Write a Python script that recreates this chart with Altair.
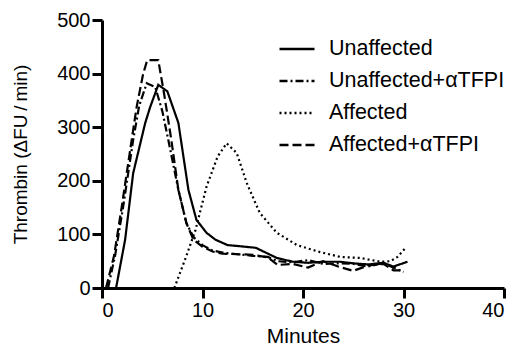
import altair as alt
import pandas as pd

# Unaffected (solid)
t_unaff = [1.4, 2.3, 3.1, 4.3, 4.8, 5.6, 6.5, 7.6, 8.6, 9.4, 10.4, 11.3, 12.5, 13.7, 15.3, 16.3, 17.4, 19.0, 20.5, 22.0, 23.7, 25.0, 26.5, 28.0, 29.0, 30.4]
v_unaff = [0, 90, 214, 308, 338, 379, 367, 308, 183, 127, 103, 90, 80, 78, 75, 66, 56, 49, 47, 49, 49, 46, 44, 47, 40, 49]

# Unaffected + aTFPI (dash-dot)
t_unaff_ab = [0.6, 1.3, 2.1, 3.1, 3.7, 4.45, 5.3, 6.0, 6.6, 7.6, 8.4, 9.1, 10.0, 11.0, 12.0, 13.5, 15.0, 16.5, 17.5, 19.0, 20.5, 22.0, 23.5, 25.0, 26.5, 28.0, 29.0, 30.0]
v_unaff_ab = [0, 60, 151, 276, 340, 382, 375, 330, 276, 183, 121, 95, 80, 70, 66, 63, 60, 58, 50, 48, 52, 45, 46, 45, 40, 47, 38, 30]

# Affected (dotted)
t_aff = [7.2, 7.5, 8.4, 9.3, 10.4, 11.5, 12.4, 13.4, 14.4, 15.7, 17.4, 19.4, 21.7, 23.7, 25.7, 27.7, 28.7, 29.4, 30.3]
v_aff = [0, 15, 60, 108, 189, 245, 270, 252, 196, 140, 103, 80, 67, 58, 56, 49, 50, 58, 77]

# Affected + aTFPI (dashed)
t_aff_ab = [0.4, 1.2, 1.96, 2.95, 3.45, 4.1, 4.5, 5.6, 6.2, 6.9, 7.6, 8.4, 9.1, 10.0, 11.0, 12.0, 13.5, 15.0, 16.5, 17.5, 19.0, 20.5, 22.0, 23.5, 25.0, 26.5, 28.0, 29.0, 30.0]
v_aff_ab = [0, 60, 151, 276, 338, 400, 425, 425, 360, 276, 183, 121, 90, 77, 68, 64, 63, 62, 57, 43, 45, 38, 50, 40, 32, 42, 45, 33, 33]

series_names = ["Unaffected", "Unaffected+\u03b1TFPI", "Affected", "Affected+\u03b1TFPI"]
dashes = [[1, 0], [8, 3, 2, 3], [2, 3], [9, 4]]

rows = []
for name, ts, vs in zip(series_names,
                        [t_unaff, t_unaff_ab, t_aff, t_aff_ab],
                        [v_unaff, v_unaff_ab, v_aff, v_aff_ab]):
    for i, (t, v) in enumerate(zip(ts, vs)):
        rows.append({"series": name, "t": t, "v": v, "order": i})
df = pd.DataFrame(rows)

FONT = "Liberation Sans"

chart = alt.Chart(df).mark_line(color="black", strokeWidth=2.2).encode(
    x=alt.X("t:Q", title="Minutes",
            scale=alt.Scale(domain=[0, 40], nice=False),
            axis=alt.Axis(values=[0, 10, 20, 30, 40], format="d", titleFontSize=21)),
    y=alt.Y("v:Q", title="Thrombin (\u0394FU\u2009/\u2009min)",
            scale=alt.Scale(domain=[0, 500], nice=False),
            axis=alt.Axis(values=[0, 100, 200, 300, 400, 500], format="d", titlePadding=26)),
    strokeDash=alt.StrokeDash("series:N",
                              scale=alt.Scale(domain=series_names, range=dashes),
                              legend=alt.Legend(title=None, orient="none", legendX=176, legendY=10)),
    order="order:Q",
).properties(
    width=402, height=268,
    padding={"left": 102, "top": 20, "right": 13, "bottom": 59},
    autosize=alt.AutoSizeParams(type="none"),
).configure_view(stroke=None).configure_axis(
    grid=False,
    domainColor="black", domainWidth=3,
    tickColor="black", tickWidth=3, tickSize=10,
    labelFont=FONT, labelFontSize=20, labelColor="black", labelPadding=2,
    titleFont=FONT, titleFontSize=19, titleFontWeight="normal", titleColor="black",
).configure_axisX(titlePadding=5).configure_legend(
    symbolType="stroke", symbolSize=1225, symbolStrokeWidth=2.5, symbolStrokeColor="black",
    labelFont=FONT, labelFontSize=21.5, labelColor="black", labelOffset=13, labelLimit=0,
    rowPadding=2, padding=0,
)

chart.save("out.html", embed_options={"renderer": "svg", "actions": False})
